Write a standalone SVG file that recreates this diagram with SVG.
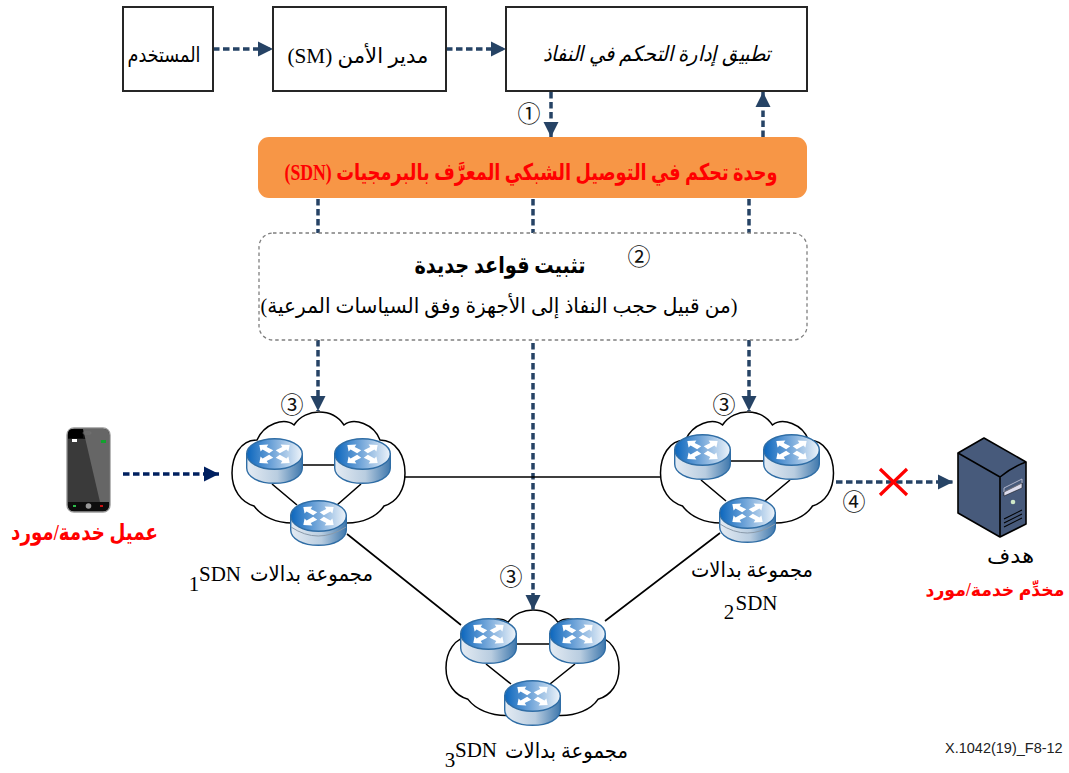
<svg xmlns="http://www.w3.org/2000/svg" width="1069" height="773" viewBox="0 0 1069 773">
<style>
.box{fill:#fff;stroke:#262626;stroke-width:2}
.ar{font-family:"Liberation Serif","DejaVu Sans",serif;font-size:21px;fill:#000;text-anchor:middle}
.big{font-size:23px}
.lat{font-family:"Liberation Serif",serif;font-size:21px;fill:#000;text-anchor:middle}
.red{fill:#f00;font-weight:bold}
.num{font-family:"Noto Sans CJK JP",sans-serif;font-size:23px;fill:#111;text-anchor:middle}
.dash{fill:none;stroke:#264365;stroke-width:3.5;stroke-dasharray:6.500 3.500}
.link{fill:none;stroke:#000;stroke-width:1.6}
.cloud{fill:#fff;stroke:#000;stroke-width:1.5}
</style>
<defs>
<marker id="ah" markerUnits="userSpaceOnUse" markerWidth="16" markerHeight="16" refX="15" refY="8" orient="auto"><path d="M0 0.5L15 8L0 15.5Z" fill="#264365"/></marker>
<marker id="ah2" markerUnits="userSpaceOnUse" markerWidth="16" markerHeight="16" refX="15" refY="8" orient="auto"><path d="M0 0.5L15 8L0 15.5Z" fill="#002060"/></marker>
<linearGradient id="rt" x1="0" y1="0" x2="1" y2="0"><stop offset="0" stop-color="#0b66bd"/><stop offset=".45" stop-color="#6ea3d8"/><stop offset="1" stop-color="#eef4fa"/></linearGradient>
<linearGradient id="rs" x1="0" y1="0" x2="1" y2="0"><stop offset="0" stop-color="#e4ebf3"/><stop offset=".55" stop-color="#b9cde0"/><stop offset="1" stop-color="#3f78ad"/></linearGradient>
<g id="router">
<path d="M0.7 16V30C0.7 39 13 45.3 28.500 45.3S56.3 39 56.3 30V16Z" fill="url(#rs)" stroke="#2f6da5" stroke-width="1.4"/>
<ellipse cx="28.5" cy="16" rx="27.8" ry="15.3" fill="url(#rt)" stroke="#2f6da5" stroke-width="1.4"/>
<g fill="#fff" transform="translate(5.130 2.880) scale(.82)">
<path d="M10 5L21 4.500L19 7.500L27 11.500L22 15L14 10.500L11.500 13Z"/>
<path d="M47 5L36 4.500L38 7.500L30 11.500L35 15L43 10.500L45.500 13Z"/>
<path d="M10 27L21 27.500L19 24.500L27 20.500L22 17L14 21.500L11.500 19Z"/>
<path d="M47 27L36 27.500L38 24.500L30 20.500L35 17L43 21.500L45.500 19Z"/>
</g>
</g>
<path id="cl" class="cloud" d="M62 13C68 4 78 0 87 0C97 0 106 4 112 13C122 5 142 12 148 28C165 28 173 45 173 61C173 78 165 90 152 94C145 105 130 111 115 111L60 111C45 111 30 105 22 94C9 90 0 78 0 61C0 45 8 28 25 28C32 12 52 5 62 13Z"/>
</defs>

<g id="cloud-1"><use href="#cl" x="232" y="412"/></g>
<g id="cloud-2"><use href="#cl" x="660.500" y="412"/></g>
<g id="cloud-3"><use href="#cl" transform="translate(446 610) scale(1 .95)"/></g>

<g id="connectors">
<path class="dash" marker-end="url(#ah)" d="M213 49H273"/>
<path class="dash" marker-end="url(#ah)" d="M446 49H506"/>
<path class="dash" marker-end="url(#ah)" d="M551 92V137"/>
<path class="dash" marker-end="url(#ah)" d="M763 137V92"/>
<path class="dash" d="M318 199V233M533 199V233M749 199V233"/>
<path class="dash" marker-end="url(#ah)" d="M318 340V411"/>
<path class="dash" marker-end="url(#ah)" d="M533 343V610"/>
<path class="dash" marker-end="url(#ah)" d="M749 340V411"/>
<path class="dash" style="stroke:#002060" marker-end="url(#ah2)" d="M123 474H219"/>
<path class="dash" marker-end="url(#ah)" d="M836 482H953"/>
<path class="link" d="M405 477H660M300 465H336M272 484L297 505M361 484L337 505M347 534L461 625"/>
<path class="link" d="M730 461H765M701 480L726 501M790 480L765 501M720 533L605 621"/>
<path class="link" d="M514 644H551M486 664L511 684M575 664L550 684"/>
</g>

<g id="user"><rect class="box" x="123" y="7" width="90" height="84"/><text class="ar" x="164" y="62" textLength="73" lengthAdjust="spacingAndGlyphs" direction="rtl">المستخدم</text></g>
<g id="security-manager"><rect class="box" x="273" y="7" width="173" height="84"/><text class="ar" x="358" y="63" textLength="141" lengthAdjust="spacingAndGlyphs" direction="rtl">مدير الأمن (SM)</text></g>
<g id="access-control-app"><rect class="box" x="506" y="7" width="301" height="84"/><text class="ar" x="657" y="61" textLength="228" lengthAdjust="spacingAndGlyphs" direction="rtl" font-style="italic">تطبيق إدارة التحكم في النفاذ</text></g>
<g id="sdn-controller"><rect x="258" y="137" width="549" height="61" rx="11" fill="#f79646"/><text class="ar big red" x="531" y="180" textLength="493" lengthAdjust="spacingAndGlyphs" direction="rtl">وحدة تحكم في التوصيل الشبكي المعرَّف بالبرمجيات (SDN)</text></g>
<g id="rules"><rect x="259" y="233" width="548" height="107" rx="14" fill="#fff" stroke="#7f7f7f" stroke-width="1.3" stroke-dasharray="3.500 3"/>
<text class="ar big" x="500" y="273" font-weight="bold" textLength="171" lengthAdjust="spacingAndGlyphs" direction="rtl">تثبيت قواعد جديدة</text>
<text class="ar" x="499" y="313" textLength="477" lengthAdjust="spacingAndGlyphs" direction="rtl">(من قبيل حجب النفاذ إلى الأجهزة وفق السياسات المرعية)</text></g>

<g id="step-numbers">
<text class="num" x="529" y="122">①</text>
<text class="num" x="639" y="265">②</text>
<text class="num" x="292" y="413">③</text>
<text class="num" x="724" y="413">③</text>
<text class="num" x="511" y="585">③</text>
<text class="num" x="854" y="510">④</text>
</g>

<g id="client-device">
<rect x="67" y="428" width="43" height="84" rx="7" fill="#111" stroke="#9a9a9a" stroke-width="1.4"/>
<path d="M68 439H109V502H68Z" fill="#3a3a3a"/>
<path d="M83 429H104Q109 429 109 434V502H100Z" fill="#666"/>
<path d="M68 434Q68 429 73 429H83V438H68Z" fill="#000"/>
<path d="M68 502H109V505Q109 511 103 511H74Q68 511 68 505Z" fill="#0d0d0d"/>
<rect x="83" y="432" width="8" height="2" rx="1" fill="none" stroke="#777" stroke-width=".7"/>
<rect x="72" y="439" width="5" height="3" fill="#fff"/>
<rect x="101" y="440" width="5" height="3" fill="#12a12e"/>
<circle cx="88.500" cy="506" r="2.800" fill="#999"/>
<rect x="73" y="505" width="3" height="2" fill="#2dbb4a"/>
<rect x="100" y="505" width="3" height="2" fill="#c11"/>
<text class="ar big red" x="84.500" y="540" textLength="147" lengthAdjust="spacingAndGlyphs" direction="rtl">عميل خدمة/مورد</text>
</g>

<g id="switch-group-1">
<use href="#router" x="246" y="438"/><use href="#router" x="334" y="438"/><use href="#router" x="290" y="500"/>
<path d="M291 527Q318 545 346 527" fill="none" stroke="#8a9aaa" stroke-width="1"/>
<text class="ar" x="311.500" y="581" textLength="123" lengthAdjust="spacingAndGlyphs" direction="rtl">مجموعة بدالات</text>
<text class="lat" x="220" y="581">SDN</text><text class="lat" x="194" y="591">1</text>
</g>
<g id="switch-group-2">
<use href="#router" x="674" y="434"/><use href="#router" x="763" y="434"/><use href="#router" x="719" y="497"/>
<path d="M720 524Q747 542 775 524" fill="none" stroke="#8a9aaa" stroke-width="1"/>
<text class="ar" x="752" y="577" textLength="122" lengthAdjust="spacingAndGlyphs" direction="rtl">مجموعة بدالات</text>
<text class="lat" x="756.500" y="610">SDN</text><text class="lat" x="729" y="619">2</text>
</g>
<g id="switch-group-3">
<use href="#router" x="460" y="618"/><use href="#router" x="549" y="618"/><use href="#router" x="504" y="680"/>
<text class="ar" x="566.500" y="758" textLength="123" lengthAdjust="spacingAndGlyphs" direction="rtl">مجموعة بدالات</text>
<text class="lat" x="476" y="757">SDN</text><text class="lat" x="450" y="767">3</text>
</g>

<g id="target-server">
<path d="M984 438L1026 462V524L1000 537L958 513V453Z" fill="#475a7b" stroke="#000" stroke-width="1.600" stroke-linejoin="round"/>
<path d="M958 453L1000 477Q1012 467 1026 462M1000 477V537" fill="none" stroke="#000" stroke-width="1.600"/>
<path d="M1004 488L1022 479V483L1004 492Z" fill="#475a7b" stroke="#ccd" stroke-width=".8"/>
<path d="M1004 492L1022 483V488L1004 496Z" fill="#dde" stroke="#000" stroke-width=".5"/>
<circle cx="1013" cy="502" r="2.300" fill="#cfe8c8"/>
<path d="M1004 519L1022 510M1004 523L1022 514M1004 527L1022 518" stroke="#000" stroke-width="1.100"/>
<text class="ar" x="1010.500" y="563" textLength="47" lengthAdjust="spacingAndGlyphs" direction="rtl">هدف</text>
<text class="ar red" x="995" y="596" style="font-size:18px" textLength="139" lengthAdjust="spacingAndGlyphs" direction="rtl">مخدِّم خدمة/مورد</text>
</g>

<path id="block-mark" d="M880 469L907 495M907 469L880 495" fill="none" stroke="#f00" stroke-width="3.200"/>
<text x="945" y="753" font-family="Liberation Sans, sans-serif" font-size="14.500" fill="#222">X.1042(19)_F8-12</text>
</svg>
